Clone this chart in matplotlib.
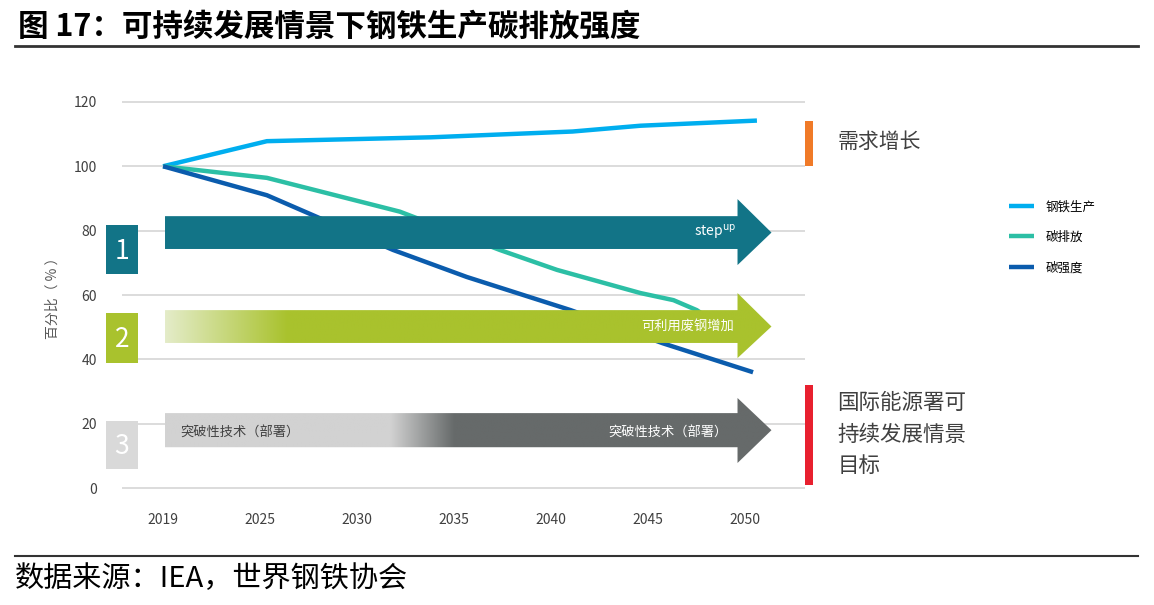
import numpy as np
import matplotlib
matplotlib.use('Agg')
import matplotlib.pyplot as plt
from matplotlib.patches import Polygon, Rectangle
from matplotlib.colors import to_rgb

plt.rcParams['font.family'] = ['Noto Sans CJK SC', 'DejaVu Sans']

# ---- data ----
tick_years = [2019, 2025, 2030, 2035, 2040, 2045, 2050]
y_ticks = [0, 20, 40, 60, 80, 100, 120]

steel_years = [2019, 2025.35, 2033.8, 2041.1, 2044.6, 2050.6]
steel_vals = [100, 107.8, 109.0, 110.8, 112.6, 114.2]

emis_years = [2019, 2025.35, 2032.2, 2037.35, 2040.3, 2044.6, 2046.3, 2047.5, 2049.5]
emis_vals = [100, 96.4, 85.9, 74.0, 67.8, 60.6, 58.4, 55.3, 47.0]

inten_years = [2019, 2025.35, 2031.85, 2035.65, 2041, 2045.75, 2050.4]
inten_vals = [100, 91.0, 74.0, 65.6, 55.3, 45.0, 36.0]

series_names = ['钢铁生产', '碳排放', '碳强度']
series_colors = ['#00aeef', '#2cbfa5', '#0b5cad']

arrow_labels = ['step$^{\\mathrm{up}}$', '可利用废钢增加', '突破性技术（部署）']
side_labels = ['需求增长', '国际能源署可\n持续发展情景\n目标']


def year_to_pos(years):
    years = np.asarray(years, dtype=float)
    idx = np.arange(len(tick_years))
    pos = np.interp(years, tick_years, idx)
    pos += np.clip(years - tick_years[-1], 0, None) / 5.0
    return pos


def arrow_poly(x0, xh, xt, yb0, yb1, yh0, yh1):
    ym = (yb0 + yb1) / 2
    return [(x0, yb0), (xh, yb0), (xh, yh0), (xt, ym), (xh, yh1), (xh, yb1), (x0, yb1)]


def gradient_fill(ax, poly, stops, colors, zorder):
    patch = Polygon(poly, closed=True, facecolor='none', edgecolor='none')
    ax.add_patch(patch)
    xs = [p[0] for p in poly]
    ys = [p[1] for p in poly]
    cols = np.linspace(min(xs), max(xs), 600)
    rgb = np.array([to_rgb(c) for c in colors])
    img = np.stack([np.interp(cols, stops, rgb[:, k]) for k in range(3)], axis=-1)[None, :, :]
    im = ax.imshow(img, extent=(min(xs), max(xs), min(ys), max(ys)), aspect='auto',
                   origin='lower', zorder=zorder, interpolation='bilinear')
    im.set_clip_path(patch)


fig = plt.figure(figsize=(11.54, 6.05), dpi=100)
ax = fig.add_axes([100 / 1154, 1 - 500 / 605, 720 / 1154, 410 / 605])

# gridlines
ax.hlines(y_ticks, -0.42, 6.62, colors='#d9d9d9', lw=1.3, zorder=0)

# lines
for yrs, vals, c, name in zip([steel_years, emis_years, inten_years],
                              [steel_vals, emis_vals, inten_vals],
                              series_colors, series_names):
    ax.plot(year_to_pos(yrs), vals, color=c, lw=3.2, solid_capstyle='butt', label=name, zorder=2)

# arrows
x0, xh, xt = 0.02, 5.92, 6.27
a1 = arrow_poly(x0, xh, xt, 74.3, 84.5, 69.3, 89.8)
ax.add_patch(Polygon(a1, closed=True, facecolor='#127487', edgecolor='none', zorder=3))
a2 = arrow_poly(x0, xh, xt, 45.1, 55.3, 40.4, 60.6)
gradient_fill(ax, a2, [x0, 1.28], ['#e4ecc9', '#a9c22d'], 3)
a3 = arrow_poly(x0, xh, xt, 12.7, 23.3, 7.8, 28.0)
gradient_fill(ax, a3, [2.34, 3.0], ['#d2d2d2', '#666a6a'], 1)

ax.text(5.9, 79.4, arrow_labels[0], color='white', fontsize=10, ha='right', va='center', zorder=4)
ax.text(5.88, 50.4, arrow_labels[1], color='white', fontsize=9.5, ha='right', va='center', zorder=4)
ax.text(5.82, 17.0, arrow_labels[2], color='white', fontsize=9.5, ha='right', va='center', zorder=4)
ax.text(0.18, 17.0, arrow_labels[2], color='#404040', fontsize=9.5, ha='left', va='center', zorder=4)

# number boxes
box_specs = [(66.5, 81.8, '#127487'), (38.9, 54.4, '#a9c22d'), (5.9, 20.8, '#d9d9d9')]
for i, (b0, b1, c) in enumerate(box_specs):
    ax.add_patch(Rectangle((-0.59, b0), 0.33, b1 - b0, facecolor=c, edgecolor='none', zorder=3))
    ax.text(-0.425, (b0 + b1) / 2 - 0.5, str(i + 1), color='white', fontsize=19,
            ha='center', va='center', zorder=4)

# side bars and notes
ax.add_patch(Rectangle((6.62, 100), 0.08, 14, facecolor='#f07a28', edgecolor='none', clip_on=False))
ax.add_patch(Rectangle((6.62, 1), 0.08, 31, facecolor='#e8202f', edgecolor='none', clip_on=False))
ax.text(6.95, 107.5, side_labels[0], color='#404040', fontsize=15, ha='left', va='center', clip_on=False)
ax.text(6.95, 16.6, side_labels[1], color='#404040', fontsize=15.5, ha='left', va='center',
        linespacing=1.55, clip_on=False)

ax.set_xlim(-0.65, 6.77)
ax.set_ylim(-3.7, 123.7)
ax.set_xticks(range(len(tick_years)))
ax.set_xticklabels([str(y) for y in tick_years])
ax.set_yticks(y_ticks)
ax.tick_params(length=0, labelsize=10, labelcolor='#404040')
ax.tick_params(axis='x', pad=9)
ax.tick_params(axis='y', pad=2)
for s in ax.spines.values():
    s.set_visible(False)
ax.set_ylabel('百分比（ % ）', fontsize=10, color='#595959', labelpad=10)

ax.legend(loc='upper left', bbox_to_anchor=(1003 / 1154, 1 - 194 / 605), bbox_transform=fig.transFigure,
          frameon=False, fontsize=9, handlelength=2.0, handletextpad=0.9, labelspacing=1.4,
          borderpad=0)

# title and source
fig.text(18 / 1154, 1 - 27 / 605, '图 17：可持续发展情景下钢铁生产碳排放强度', fontsize=22,
         fontweight='bold', ha='left', va='center', color='black')
fig.add_artist(plt.Line2D([15 / 1154, 1138 / 1154], [1 - 46 / 605] * 2, color='#333333', lw=2))
fig.add_artist(plt.Line2D([15 / 1154, 1138 / 1154], [1 - 556 / 605] * 2, color='#333333', lw=1.5))
fig.text(15 / 1154, 1 - 579 / 605, '数据来源：IEA，世界钢铁协会', fontsize=21, ha='left', va='center',
         color='black')

fig.savefig('out.png', dpi=100)
